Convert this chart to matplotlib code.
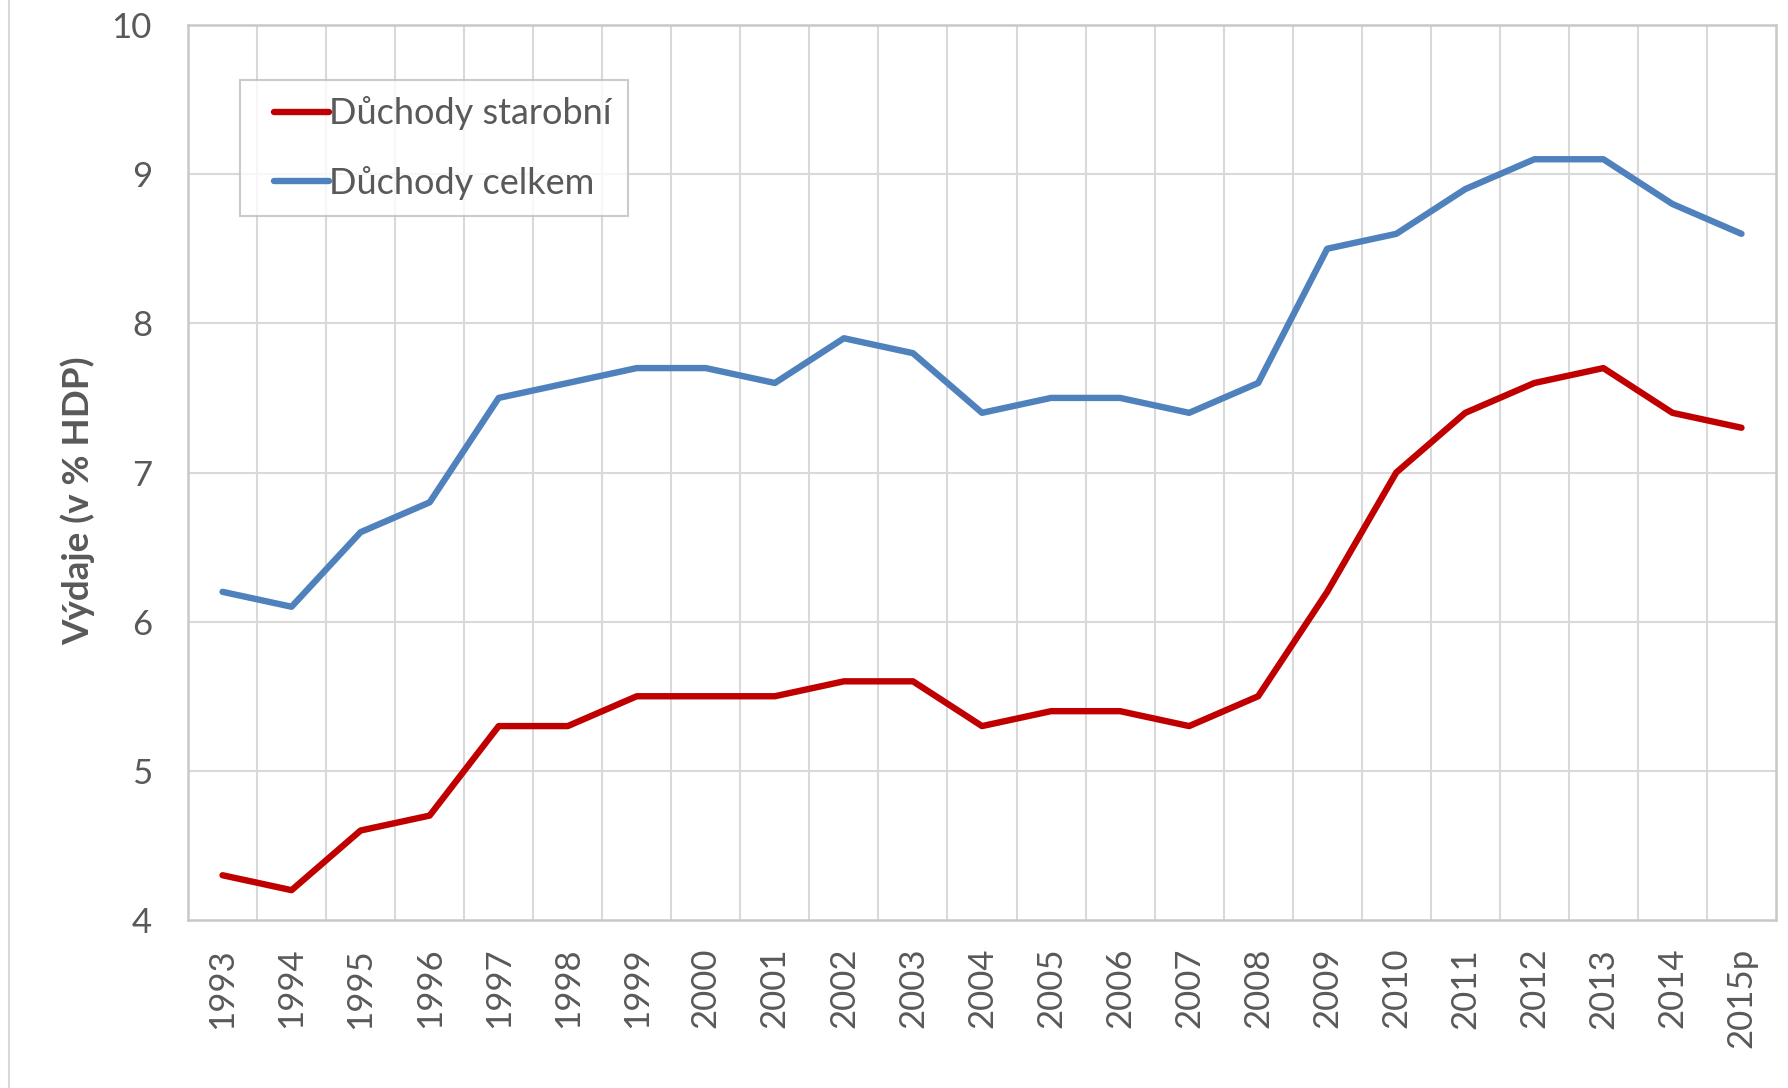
import matplotlib
matplotlib.use("Agg")
import matplotlib.pyplot as plt
from matplotlib.lines import Line2D
from matplotlib.legend_handler import HandlerLine2D

years = ["1993", "1994", "1995", "1996", "1997", "1998", "1999", "2000", "2001",
         "2002", "2003", "2004", "2005", "2006", "2007", "2008", "2009", "2010",
         "2011", "2012", "2013", "2014", "2015p"]
starobni = [4.3, 4.2, 4.6, 4.7, 5.3, 5.3, 5.5, 5.5, 5.5, 5.6, 5.6, 5.3, 5.4, 5.4,
            5.3, 5.5, 6.2, 7.0, 7.4, 7.6, 7.7, 7.4, 7.3]
celkem = [6.2, 6.1, 6.6, 6.8, 7.5, 7.6, 7.7, 7.7, 7.6, 7.9, 7.8, 7.4, 7.5, 7.5,
          7.4, 7.6, 8.5, 8.6, 8.9, 9.1, 9.1, 8.8, 8.6]
y_ticks = [4, 5, 6, 7, 8, 9, 10]

plt.rcParams['font.family'] = ['Lato', 'DejaVu Sans']

W, H = 1788, 1088
fig = plt.figure(figsize=(W / 100, H / 100), dpi=100)
ax = fig.add_axes([188 / W, 1 - 920 / H, (1776 - 188) / W, (920 - 25) / H])

x = list(range(len(years)))
ax.plot(x, starobni, color='#C00000', lw=4.6, solid_capstyle='round',
        solid_joinstyle='round', label='Důchody starobní', zorder=3)
ax.plot(x, celkem, color='#4F81BD', lw=4.6, solid_capstyle='round',
        solid_joinstyle='round', label='Důchody celkem', zorder=3)

ax.set_xlim(-0.5, len(years) - 0.5)
ax.set_ylim(4, 10)
ax.set_yticks(y_ticks)
ax.set_yticklabels([str(v) for v in y_ticks])
ax.set_xticks(x)
ax.set_xticklabels(years, rotation=90, va='top', ha='center')

# vertical gridlines at category boundaries
for b in range(1, len(years)):
    ax.axvline(b - 0.5, color='#D9D9D9', lw=1.5, zorder=1)
for v in y_ticks[1:-1]:
    ax.axhline(v, color='#D9D9D9', lw=1.5, zorder=1)

for s in ax.spines.values():
    s.set_color('#C8C8C8')
    s.set_linewidth(1.8)

ax.tick_params(axis='both', length=0, colors='#595959', labelsize=25)
ax.tick_params(axis='x', pad=20)
ax.tick_params(axis='y', pad=26)

fig.text(78 / W, 1 - 501 / H, 'Výdaje (v % HDP)', fontsize=26.5, fontweight='bold',
         color='#595959', rotation=90, ha='center', va='center')

leg = ax.legend(loc='upper left', bbox_to_anchor=((240 - 188) / (1776 - 188), 1 - (80 - 25) / (920 - 25)),
                fontsize=26, frameon=True, fancybox=False, handlelength=2.02,
                handletextpad=0.0, borderpad=0.45, labelspacing=0.99, borderaxespad=0,
                handler_map={Line2D: HandlerLine2D(xpad=0.5)})
leg.get_frame().set_edgecolor('#BFBFBF')
leg.get_frame().set_linewidth(1.5)
for t in leg.get_texts():
    t.set_color('#595959')

fig.add_artist(Line2D([9 / W, 9 / W], [0, 1], color='#D9D9D9', lw=1.5,
                      transform=fig.transFigure))

fig.savefig('out.png', dpi=100, facecolor='white')
